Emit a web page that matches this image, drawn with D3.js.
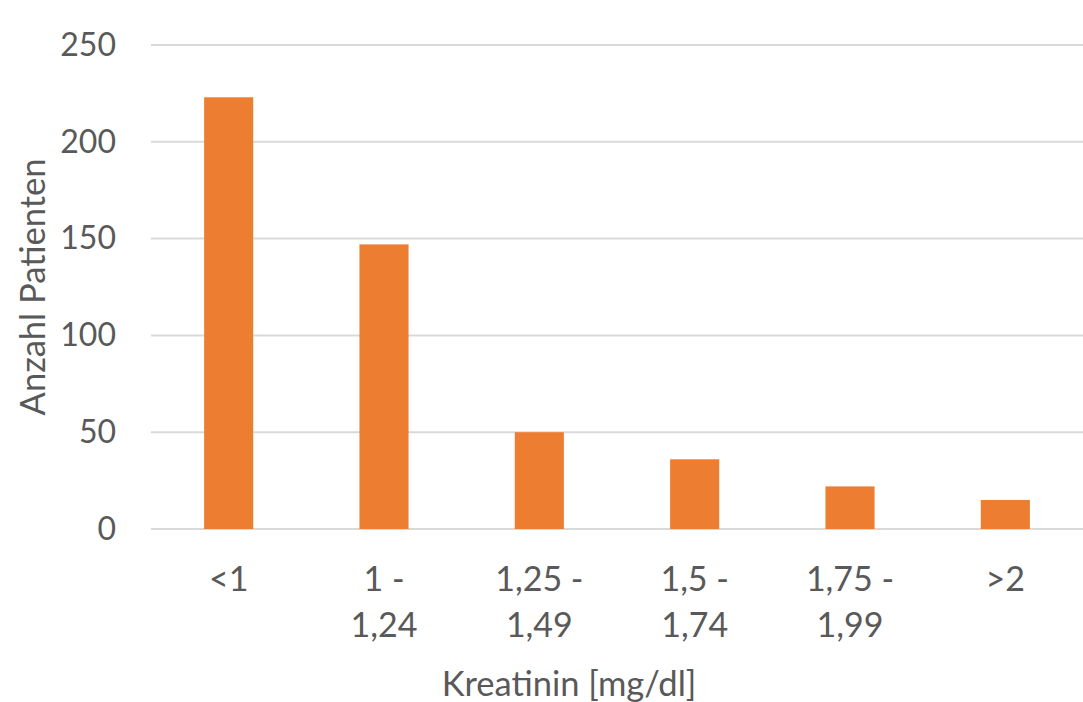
<!DOCTYPE html>
<html>
<head>
<meta charset="utf-8">
<script src="https://cdn.jsdelivr.net/npm/d3@7"></script>
<style>
  html, body { margin: 0; padding: 0; background: #fff; }
  svg text { font-family: Lato, "Open Sans", sans-serif; fill: #595959; }
</style>
</head>
<body>
<svg id="chart" width="1083" height="702"></svg>
<script>
// Patient counts per creatinine range
const categories = [["<1"], ["1 -", "1,24"], ["1,25 -", "1,49"], ["1,5 -", "1,74"], ["1,75 -", "1,99"], [">2"]];
const values = [223, 147, 50, 36, 22, 15];
const yTicks = [0, 50, 100, 150, 200, 250];
const xTitle = "Kreatinin [mg/dl]";
const yTitle = "Anzahl Patienten";

const svg = d3.select("#chart");
const plot = { left: 151, right: 1083, top: 45, bottom: 529 };

const keys = categories.map(c => c.join(" "));
const x = d3.scaleBand()
  .domain(keys)
  .range([plot.left, plot.right])
  .paddingInner(0.684)
  .paddingOuter(0.342);

const y = d3.scaleLinear()
  .domain([0, 250])
  .range([plot.bottom, plot.top]);

// Horizontal gridlines
svg.append("g")
  .selectAll("line")
  .data(yTicks)
  .join("line")
  .attr("x1", plot.left)
  .attr("x2", plot.right)
  .attr("y1", d => y(d))
  .attr("y2", d => y(d))
  .attr("stroke", "#d9d9d9")
  .attr("stroke-width", 2);

// Y tick labels
const yAxis = d3.axisLeft(y).tickValues(yTicks).tickSize(0).tickPadding(0);
const gy = svg.append("g")
  .attr("transform", `translate(116,0)`)
  .call(yAxis);
gy.select(".domain").remove();
gy.selectAll("text")
  .attr("font-size", 32)
  .attr("fill", "#595959")
  .attr("font-family", "Lato, 'Open Sans', sans-serif");

// Bars
svg.append("g")
  .selectAll("rect")
  .data(values)
  .join("rect")
  .attr("x", (d, i) => x(keys[i]))
  .attr("width", x.bandwidth())
  .attr("y", d => y(d))
  .attr("height", d => y(0) - y(d))
  .attr("fill", "#ed7d31");

// Category labels (wrapped onto two lines)
const xl = svg.append("g")
  .selectAll("text")
  .data(categories)
  .join("text")
  .attr("text-anchor", "middle")
  .attr("font-size", 34)
  .attr("x", (d, i) => x(keys[i]) + x.bandwidth() / 2)
  .attr("y", 591);
xl.selectAll("tspan")
  .data(d => d)
  .join("tspan")
  .attr("x", function () { return d3.select(this.parentNode).attr("x"); })
  .attr("dy", (d, i) => i === 0 ? 0 : 46)
  .text(d => d);

// Axis titles
svg.append("text")
  .attr("x", (plot.left + plot.right) / 2 - 48)
  .attr("y", 696)
  .attr("text-anchor", "middle")
  .attr("font-size", 34.5)
  .text(xTitle);

svg.append("text")
  .attr("transform", `translate(45,287) rotate(-90)`)
  .attr("text-anchor", "middle")
  .attr("font-size", 34.5)
  .text(yTitle);
</script>
</body>
</html>
